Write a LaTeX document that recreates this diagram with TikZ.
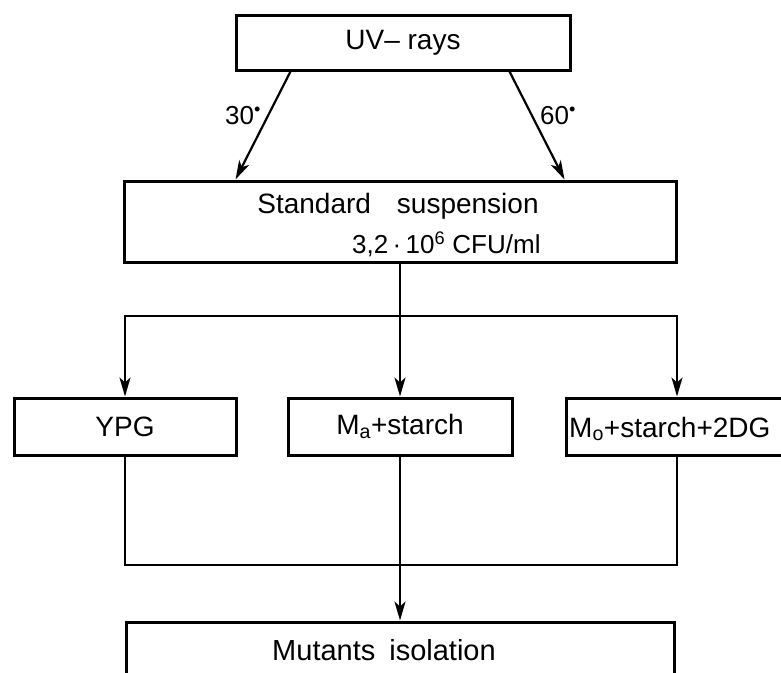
\documentclass[tikz,border=0pt]{standalone}
\usepackage{fontspec}
\setmainfont{Liberation Sans}
\usetikzlibrary{arrows.meta}
\tikzset{
  box/.style={draw, line width=3pt, rectangle, inner sep=0pt},
  conn/.style={line width=2.2pt},
  arr/.style={conn, -{Stealth[length=19pt, width=11pt, inset=5pt]}},
  txt/.style={inner sep=0pt, font=\fontsize{28}{30}\selectfont},
}
\begin{document}
\begin{tikzpicture}[x=1pt, y=-1pt]
\useasboundingbox (0,0) rectangle (781,672);
\clip (0,0) rectangle (781,672);
\fill[white] (0,0) rectangle (781,672);

% boxes
\node[box, minimum width=334pt, minimum height=55pt, txt] (uv) at (403,42.5) {UV– rays};
\node[box, minimum width=552pt, minimum height=81pt] (std) at (400,221.5) {};
\node[txt] (stdA) at (398,206) {Standard\hspace{26pt}suspension};
\node[txt, anchor=west, font=\fontsize{26}{30}\selectfont] (stdB) at (352,244) {3,2\,·\,10\textsuperscript{6} CFU/ml};

\node[box, minimum width=222pt, minimum height=57pt, txt] (ypg) at (125,426.5) {YPG};
\node[box, minimum width=224pt, minimum height=57pt, txt] (ma) at (400,426.5) {M\textsubscript{a}+starch};
\node[box, minimum width=222pt, minimum height=57pt] (mo) at (677,426.5) {};
\node[txt, anchor=west] (motext) at (569,429) {M\textsubscript{o}+starch+2DG};

\node[box, minimum width=548pt, minimum height=78pt] (mut) at (400,661) {};
\node[txt, font=\fontsize{29}{30}\selectfont] (mutlbl) at (384,650) {Mutants\hspace{14pt}isolation};

% UV arrows
\draw[arr] ([xshift=56pt]uv.south west) -- ([xshift=113pt]std.north west);
\draw[arr] ([xshift=-62pt]uv.south east) -- ([xshift=-113pt]std.north east);
\node[txt, font=\fontsize{26}{30}\selectfont] (l30) at (243,116) {30\textsuperscript{\textbullet}};
\node[txt, font=\fontsize{26}{30}\selectfont] (l60) at (558,116) {60\textsuperscript{\textbullet}};

% split
\coordinate (split) at (400,316);
\draw[arr] (std.south) -- (ma.north);
\draw[arr] (split) -| (ypg.north);
\draw[arr] (split) -| (mo.north);

% join
\coordinate (join) at (400,565);
\draw[conn] (ypg.south) |- (join);
\draw[conn] (mo.south) |- (join);
\draw[arr] (ma.south) -- (mut.north);
\end{tikzpicture}
\end{document}
